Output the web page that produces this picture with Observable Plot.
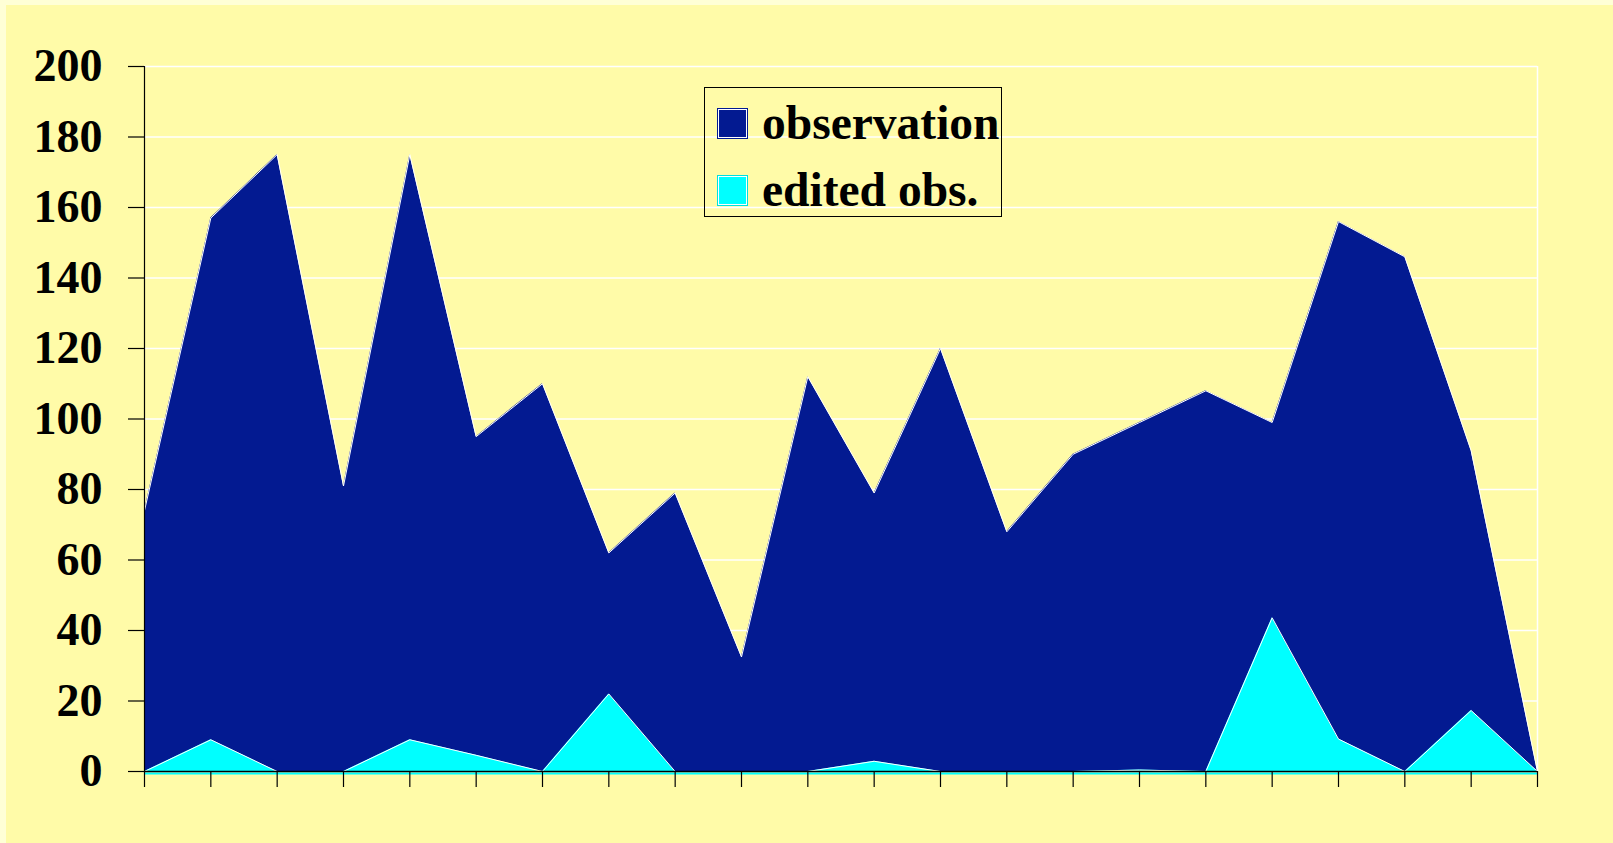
<!DOCTYPE html>
<html>
<head>
<meta charset="utf-8">
<script src="https://cdn.jsdelivr.net/npm/d3@7"></script>
<script src="https://cdn.jsdelivr.net/npm/@observablehq/plot@0.6"></script>
<style>
  html, body { margin: 0; padding: 0; background: #FFFFD6; width: 1613px; height: 843px; overflow: hidden; }
  #wrap { position: absolute; left: 6px; top: 5px; width: 1607px; height: 838px; background: #FFFBA8; }
  #legend { position: absolute; left: 704px; top: 87px; width: 296px; height: 128px; border: 1px solid #000;
    font-family: "Liberation Serif", "Times New Roman", serif; font-weight: bold; font-size: 47.5px; color: #000; }
  .item { position: absolute; left: 12px; height: 40px; white-space: nowrap; }
  .sw { position: absolute; left: 0; top: 0; width: 29px; height: 29px; border: 1px solid; box-shadow: inset 0 0 0 1px #fff; }
  .lbl { position: absolute; left: 45px; top: -15px; line-height: 60px; }
</style>
</head>
<body>
<div id="wrap"></div>
<div id="legend"></div>
<script>
const seriesNames = ["observation", "edited obs."];
const seriesColors = ["#031A91", "#00FFFF"];
const observation = [74, 157, 175, 81, 175, 95, 110, 62, 79, 32.5, 112, 79, 120, 68, 90, 99, 108, 99, 156, 146, 91, 0];
const edited = [0, 9, 0, 0, 9, 4.6, 0, 22, 0, 0, 0, 2.9, 0, 0, 0, 0.4, 0, 43.6, 9.2, 0, 17.3, 0];
const yTicks = [0, 20, 40, 60, 80, 100, 120, 140, 160, 180, 200];

const obsData = observation.map((v, i) => ({i, v}));
const edData = edited.map((v, i) => ({i, v}));
const n = observation.length;

const chart = Plot.plot({
  width: 1607,
  height: 838,
  marginLeft: 138,
  marginRight: 76,
  marginTop: 61,
  marginBottom: 72,
  style: {background: "transparent", fontFamily: "'Liberation Serif', 'Times New Roman', serif", fontSize: "46px", fontWeight: "bold", color: "#000", overflow: "visible"},
  x: {domain: [0, n - 1], axis: null},
  y: {domain: [0, 200], axis: null},
  marks: [
    Plot.gridY(yTicks, {stroke: "#fff", strokeOpacity: 1, strokeWidth: 1.5}),
    Plot.ruleX([n - 1], {stroke: "#fff", strokeWidth: 1.5, y1: 0, y2: 200}),
    Plot.areaY(obsData, {x: "i", y: "v", fill: seriesColors[0]}),
    Plot.lineY(obsData, {x: "i", y: "v", stroke: "#fff", strokeWidth: 1}),
    Plot.areaY(edData, {x: "i", y: "v", fill: seriesColors[1]}),
    Plot.lineY(edData, {x: "i", y: "v", stroke: "#fff", strokeWidth: 1}),
    Plot.ruleY([0], {stroke: seriesColors[1], strokeWidth: 2, dy: 2}),
    Plot.ruleY([0], {stroke: "#000", strokeWidth: 1.5}),
    Plot.ruleX([0], {stroke: "#000", strokeWidth: 1.2, y1: 0, y2: 200}),
    Plot.axisX(d3.range(n), {tickSize: 16, tickFormat: () => "", label: null, stroke: "#000", strokeWidth: 1.2}),
    Plot.axisY(yTicks, {tickSize: 16, tickPadding: 26, label: null, stroke: "#000", strokeWidth: 1.2, fill: "#000"})
  ]
});
document.getElementById("wrap").appendChild(chart);

const legend = document.getElementById("legend");
seriesNames.forEach((name, k) => {
  const it = document.createElement("div");
  it.className = "item";
  it.style.top = (k === 0 ? 20 : 87) + "px";
  const sw = document.createElement("div");
  sw.className = "sw";
  sw.style.background = seriesColors[k];
  sw.style.borderColor = k === 0 ? "#031A91" : "#00E0E0";
  const lb = document.createElement("div");
  lb.className = "lbl";
  lb.textContent = name;
  it.appendChild(sw); it.appendChild(lb);
  legend.appendChild(it);
});
</script>
</body>
</html>
